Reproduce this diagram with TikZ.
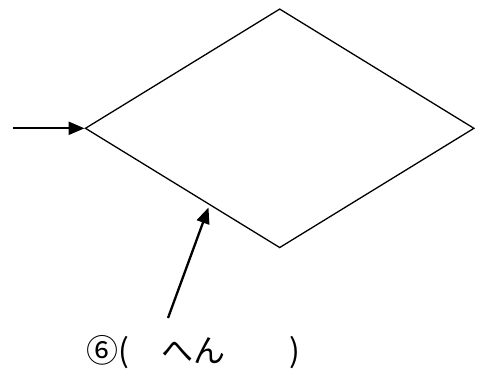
\documentclass[tikz,border=0pt]{standalone}
\usepackage{fontspec}
\newfontfamily\jpfont{Noto Sans CJK JP}
\usetikzlibrary{shapes.geometric, arrows.meta, positioning}
\tikzstyle{judge} = [
	diamond,
	minimum width=389pt,
	minimum height=239pt,
	inner sep=0pt,
	draw=black,
	line width=1.3pt
]
\tikzstyle{answer} = [
	inner sep=0pt,
	font=\jpfont\fontsize{32}{38}\selectfont
]
\tikzstyle{arrow} = [line width=2.3pt,-{Triangle[length=16pt,width=13pt]}]

\begin{document}
\begin{tikzpicture}[x=1pt, y=-1pt]
		\useasboundingbox (0,0) rectangle (479,369);

		\node (branch) [judge] at (279.7,128.3) {};
		\node (blank) [answer, anchor=base west] at (86,362) {⑥(　へん　　)};

		\coordinate (entry) at (13,128.3);
		\coordinate (tail) at (168,318);
		\coordinate (hit) at (208.5,207.5);

		\draw [arrow] (entry) -- (branch.west);
		\draw [arrow] (tail) -- (hit);
	\end{tikzpicture}
\end{document}
